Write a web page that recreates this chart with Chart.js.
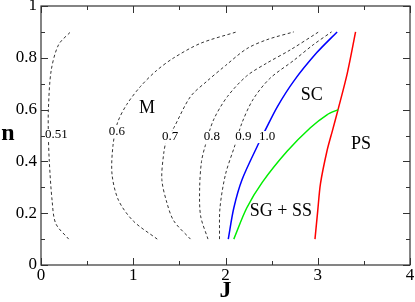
<!DOCTYPE html>
<html>
<head>
<meta charset="utf-8">
<script src="https://cdn.jsdelivr.net/npm/chart.js@4.4.1/dist/chart.umd.min.js"></script>
<style>
  html, body { margin: 0; padding: 0; background: #fff; }
  #wrap { width: 415px; height: 302px; }
</style>
</head>
<body>
<div id="wrap"><canvas id="phase"></canvas></div>
<script>
'use strict';

// dashed contours (J, n)
const c051J = [0.30, 0.16, 0.12, 0.09, 0.08, 0.08, 0.11, 0.19, 0.32];
const c051N = [0.10, 0.16, 0.25, 0.40, 0.50, 0.60, 0.75, 0.85, 0.90];
const c06J = [1.26, 1.00, 0.84, 0.77, 0.78, 0.83, 0.93, 1.08, 1.25, 1.44, 1.73, 2.12];
const c06N = [0.10, 0.17, 0.25, 0.35, 0.46, 0.55, 0.62, 0.69, 0.75, 0.80, 0.856, 0.90];
const c07J = [1.62, 1.44, 1.365, 1.31, 1.33, 1.36, 1.44, 1.62, 1.80, 2.00, 2.23, 2.45, 2.74];
const c07N = [0.10, 0.17, 0.24, 0.33, 0.43, 0.48, 0.53, 0.65, 0.71, 0.77, 0.835, 0.87, 0.90];
const c08J = [1.81, 1.73, 1.72, 1.74, 1.78, 1.87, 2.02, 2.23, 2.45, 2.70, 3.01];
const c08N = [0.10, 0.19, 0.30, 0.40, 0.46, 0.56, 0.65, 0.73, 0.78, 0.83, 0.90];
const c09J = [1.935, 1.94, 2.00, 2.10, 2.18, 2.30, 2.48, 2.74, 2.95, 3.15];
const c09N = [0.10, 0.22, 0.35, 0.46, 0.55, 0.64, 0.72, 0.79, 0.85, 0.90];

// phase boundaries
const blueJ = [2.03, 2.09, 2.18, 2.36, 2.43, 2.56, 2.74, 2.99, 3.21];
const blueN = [0.10, 0.22, 0.33, 0.47, 0.52, 0.61, 0.71, 0.82, 0.90];
const greenJ = [2.09, 2.23, 2.40, 2.67, 2.92, 3.10, 3.22];
const greenN = [0.10, 0.22, 0.32, 0.44, 0.53, 0.58, 0.60];
const redJ = [2.97, 3.00, 3.03, 3.10, 3.16, 3.22, 3.32, 3.41];
const redN = [0.10, 0.21, 0.315, 0.44, 0.52, 0.60, 0.74, 0.90];

// tick labels
const xTicks = [0, 1, 2, 3, 4];
const yTicks = [0, 0.2, 0.4, 0.6, 0.8, 1];

// text on the plot: contour values and phase names
const contourText = ['0.51', '0.6', '0.7', '0.8', '0.9', '1.0'];
const contourAt = [[0.166, 0.502], [0.823, 0.517], [1.40, 0.494], [1.853, 0.494], [2.195, 0.494], [2.45, 0.494]];
const phaseText = ['M', 'SC', 'PS', 'SG + SS'];
const phaseAt = [[1.148, 0.605], [2.936, 0.656], [3.47, 0.467], [2.60, 0.208]];

const SERIF = "'Liberation Serif', 'DejaVu Serif', serif";

Chart.defaults.font.family = SERIF;
Chart.defaults.font.size = 17;
Chart.defaults.color = '#000';

function pts(J, N) {
  return J.map((j, i) => ({ x: j, y: N[i] }));
}

function dashed(J, N) {
  return {
    data: pts(J, N), showLine: true, pointRadius: 0,
    borderColor: '#333', borderWidth: 1, borderDash: [3, 2.5], tension: 0.3,
  };
}

function solid(J, N, color) {
  return {
    data: pts(J, N), showLine: true, pointRadius: 0,
    borderColor: color, borderWidth: 1.5, tension: 0.3,
  };
}

// inward ticks, frame, labels and axis names
const decorations = {
  id: 'decorations',
  afterDatasetsDraw(chart) {
    const { ctx, chartArea: a, scales: { x, y } } = chart;
    ctx.save();
    ctx.textAlign = 'center';
    ctx.textBaseline = 'middle';

    ctx.font = '13px ' + SERIF;
    contourText.forEach((t, i) => {
      const px = x.getPixelForValue(contourAt[i][0]);
      const py = y.getPixelForValue(contourAt[i][1]);
      const w = ctx.measureText(t).width;
      ctx.fillStyle = '#fff';
      ctx.fillRect(px - w / 2 - 1, py - 6, w + 2, 12);
      ctx.fillStyle = '#000';
      ctx.fillText(t, px, py);
    });

    ctx.font = '18px ' + SERIF;
    ctx.fillStyle = '#000';
    phaseText.forEach((t, i) => {
      ctx.fillText(t, x.getPixelForValue(phaseAt[i][0]), y.getPixelForValue(phaseAt[i][1]));
    });

    // frame
    ctx.strokeStyle = '#333';
    ctx.lineWidth = 1.2;
    ctx.strokeRect(a.left, a.top, a.right - a.left, a.bottom - a.top);

    ctx.lineWidth = 1;
    ctx.beginPath();
    for (let v = 0; v <= 4.001; v += 0.5) {
      const px = Math.round(x.getPixelForValue(v)) + 0.5;
      const len = Math.abs(v - Math.round(v)) < 1e-6 ? 7 : 4;
      ctx.moveTo(px, a.bottom); ctx.lineTo(px, a.bottom - len);
      ctx.moveTo(px, a.top); ctx.lineTo(px, a.top + len);
    }
    for (let k = 0; k <= 10; k++) {
      const py = Math.round(y.getPixelForValue(k / 10)) + 0.5;
      const len = k % 2 === 0 ? 7 : 4;
      ctx.moveTo(a.left, py); ctx.lineTo(a.left + len, py);
      ctx.moveTo(a.right, py); ctx.lineTo(a.right - len, py);
    }
    ctx.stroke();

    // axis names
    ctx.font = 'bold 24px ' + SERIF;
    ctx.fillStyle = '#000';
    ctx.fillText('n', 8, 134);
    ctx.fillText('J', (a.left + a.right) / 2, 291);
    ctx.restore();
  },
};

document.addEventListener('DOMContentLoaded', () => {
  new Chart(document.getElementById('phase'), {
    type: 'scatter',
    data: {
      datasets: [
        dashed(c051J, c051N),
        dashed(c06J, c06N),
        dashed(c07J, c07N),
        dashed(c08J, c08N),
        dashed(c09J, c09N),
        solid(blueJ, blueN, '#0000ff'),
        solid(greenJ, greenN, '#00ee00'),
        solid(redJ, redN, '#ff0000'),
      ],
    },
    options: {
      responsive: true,
      maintainAspectRatio: false,
      animation: false,
      layout: { padding: { top: 6, right: 5, left: 0, bottom: 0 } },
      plugins: { legend: { display: false }, tooltip: { enabled: false } },
      scales: {
        x: {
          type: 'linear', min: 0, max: 4,
          afterBuildTicks: s => { s.ticks = xTicks.map(v => ({ value: v })); },
          afterFit: s => { s.height = 37; s.paddingLeft = 0; s.paddingRight = 0; },
          grid: { display: false, drawTicks: false },
          border: { display: false },
          ticks: { padding: 0, color: '#000', font: { family: SERIF, size: 17 }, callback: v => String(v) },
        },
        y: {
          type: 'linear', min: 0, max: 1,
          afterBuildTicks: s => { s.ticks = yTicks.map(v => ({ value: v })); },
          afterFit: s => { s.width = 41; s.paddingTop = 0; s.paddingBottom = 0; },
          grid: { display: false, drawTicks: false },
          border: { display: false },
          ticks: { padding: 4, color: '#000', font: { family: SERIF, size: 17 }, callback: v => String(v) },
        },
      },
    },
    plugins: [decorations],
  });
});
</script>
</body>
</html>
